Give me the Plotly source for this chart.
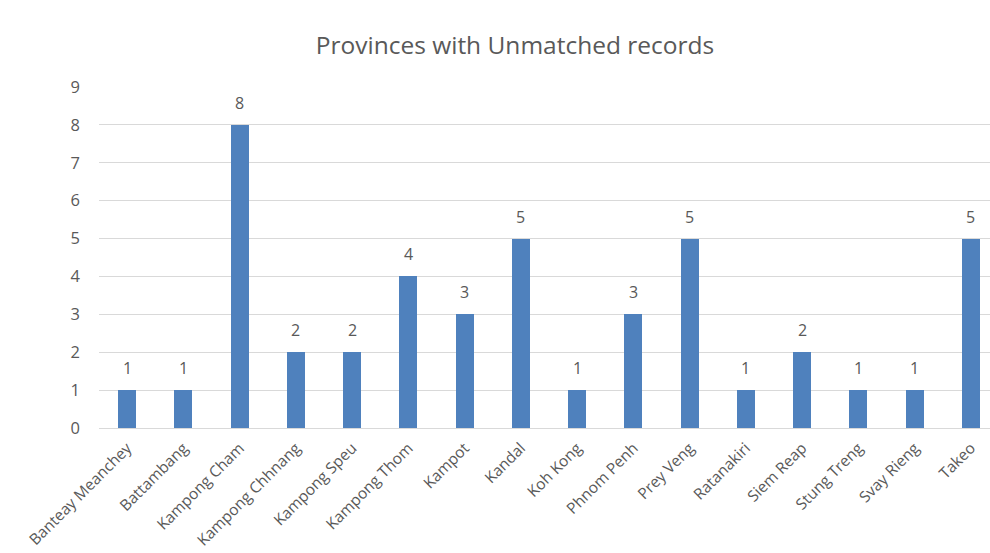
import plotly.graph_objects as go

provinces = ["Banteay Meanchey", "Battambang", "Kampong Cham", "Kampong Chhnang",
             "Kampong Speu", "Kampong Thom", "Kampot", "Kandal", "Koh Kong",
             "Phnom Penh", "Prey Veng", "Ratanakiri", "Siem Reap", "Stung Treng",
             "Svay Rieng", "Takeo"]
counts = [1, 1, 8, 2, 2, 4, 3, 5, 1, 3, 5, 1, 2, 1, 1, 5]
y_ticks = list(range(0, 10))

font_fam = "Open Sans, Noto Sans, sans-serif"
grey = "#595959"
xs = list(range(len(provinces)))

fig = go.Figure(go.Bar(
    x=xs, y=counts,
    marker=dict(color="#4F81BD", line=dict(width=0)),
    width=0.32,
    cliponaxis=False,
))

for x, c in zip(xs, counts):
    fig.add_annotation(x=x, y=c, text=str(c), showarrow=False,
                       yanchor="bottom", yshift=9,
                       font=dict(family=font_fam, size=16, color=grey))

fig.update_layout(
    width=990, height=553,
    paper_bgcolor="white", plot_bgcolor="white",
    margin=dict(l=99, r=0, t=87, b=125, autoexpand=False),
    title=dict(text="Provinces with Unmatched records", x=515/990, xref="container",
               xanchor="center", y=1 - 45/553, yanchor="middle",
               font=dict(family=font_fam, size=24.5, color=grey)),
    showlegend=False,
    bargap=0,
)
fig.update_xaxes(
    tickmode="array", tickvals=xs, ticktext=provinces,
    range=[-0.5, 15.34], tickangle=-45, automargin=False,
    tickfont=dict(family=font_fam, size=15.5, color=grey),
    showgrid=False, showline=False, zeroline=False, ticks="",
    ticklabelstandoff=7,
)
fig.update_yaxes(
    range=[0, 9], tickvals=y_ticks, automargin=False,
    tickfont=dict(family=font_fam, size=16.5, color=grey),
    showgrid=True, gridcolor="#D9D9D9", gridwidth=1,
    zeroline=True, zerolinecolor="#D9D9D9", zerolinewidth=1,
    showline=False, ticks="", ticklabelstandoff=18,
)

fig.write_html("out.html", config={"displayModeBar": False})

# remove the browser's default page margin so the figure sits at the window's corner
with open("out.html", "r", encoding="utf-8") as f:
    html = f.read()
html = html.replace("<body>", '<body style="margin:0;padding:0;overflow:hidden">', 1)
with open("out.html", "w", encoding="utf-8") as f:
    f.write(html)
